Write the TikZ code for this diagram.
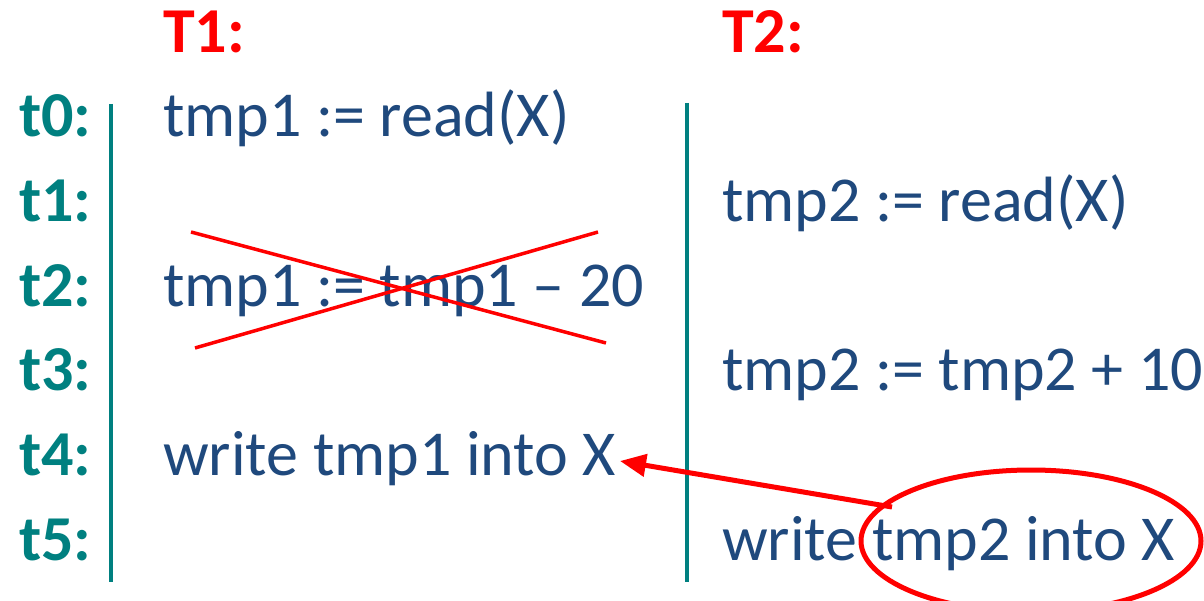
\documentclass[tikz,border=0pt]{standalone}
\usepackage{fontspec}
\setmainfont{Carlito}
\usetikzlibrary{arrows.meta,shapes.geometric}
\definecolor{tealc}{RGB}{0,128,128}
\definecolor{bluec}{RGB}{31,73,125}
\definecolor{redc}{RGB}{255,0,0}
\tikzset{
  stmt/.style={anchor=base west,inner sep=0pt,text=bluec,font=\fontsize{64}{70}\selectfont},
  tlab/.style={anchor=base west,inner sep=0pt,text=tealc,font=\fontsize{64}{70}\selectfont\bfseries},
  thead/.style={anchor=base west,inner sep=0pt,text=redc,font=\fontsize{64}{70}\selectfont\bfseries},
  timeline/.style={draw=tealc,line width=4pt},
  crossline/.style={draw=redc,line width=3.5pt},
  hilite/.style={draw=redc,line width=5pt,ellipse,minimum width=340pt,minimum height=142pt,inner sep=0pt},
  conflict/.style={draw=redc,line width=5pt,-{Triangle[length=26pt,width=22pt]}}
}
\begin{document}
\begin{tikzpicture}[x=1pt,y=-1pt]
\useasboundingbox (0,0) rectangle (1204,601);
\fill[white] (0,0) rectangle (1204,601);
% headers
\node[thead] (T1) at (163,53) {T1:};
\node[thead] (T2) at (722,53) {T2:};
% time labels
\node[tlab] (l0) at (19,137) {t0:};
\node[tlab] (l1) at (19,221.6) {t1:};
\node[tlab] (l2) at (19,306.2) {t2:};
\node[tlab] (l3) at (19,390.8) {t3:};
\node[tlab] (l4) at (19,475.4) {t4:};
\node[tlab] (l5) at (19,560) {t5:};
% timelines
\coordinate (v1a) at (111,104);
\coordinate (v1b) at (111,582);
\coordinate (v2a) at (687,103);
\coordinate (v2b) at (687,582);
\draw[timeline] (v1a) -- (v1b);
\draw[timeline] (v2a) -- (v2b);
% T1 statements
\node[stmt] (s0) at (163,137) {tmp1 := read(X)};
\node[stmt] (s2) at (163,306.2) {tmp1 := tmp1 – 20};
\node[stmt] (s4) at (163,475.4) {write tmp1 into X};
% T2 statements
\node[stmt] (r1) at (722,221.6) {tmp2 := read(X)};
\node[stmt] (r3) at (722,390.8) {tmp2 := tmp2 + 10};
\node[stmt] (r5) at (722,560) {write tmp2 into X};
% cross-out
\coordinate (c1a) at (191,232);
\coordinate (c1b) at (606,343);
\coordinate (c2a) at (195,348);
\coordinate (c2b) at (598,232);
\draw[crossline] (c1a) -- (c1b);
\draw[crossline] (c2a) -- (c2b);
% highlight and arrow
\begin{scope}
\clip (0,0) rectangle (1204,601);
\node[hilite] (hl) at (1031,541) {};
\end{scope}
\coordinate (from) at (892,507);
\coordinate (tip) at (620,461);
\draw[conflict] (from) -- (tip);
\end{tikzpicture}
\end{document}
